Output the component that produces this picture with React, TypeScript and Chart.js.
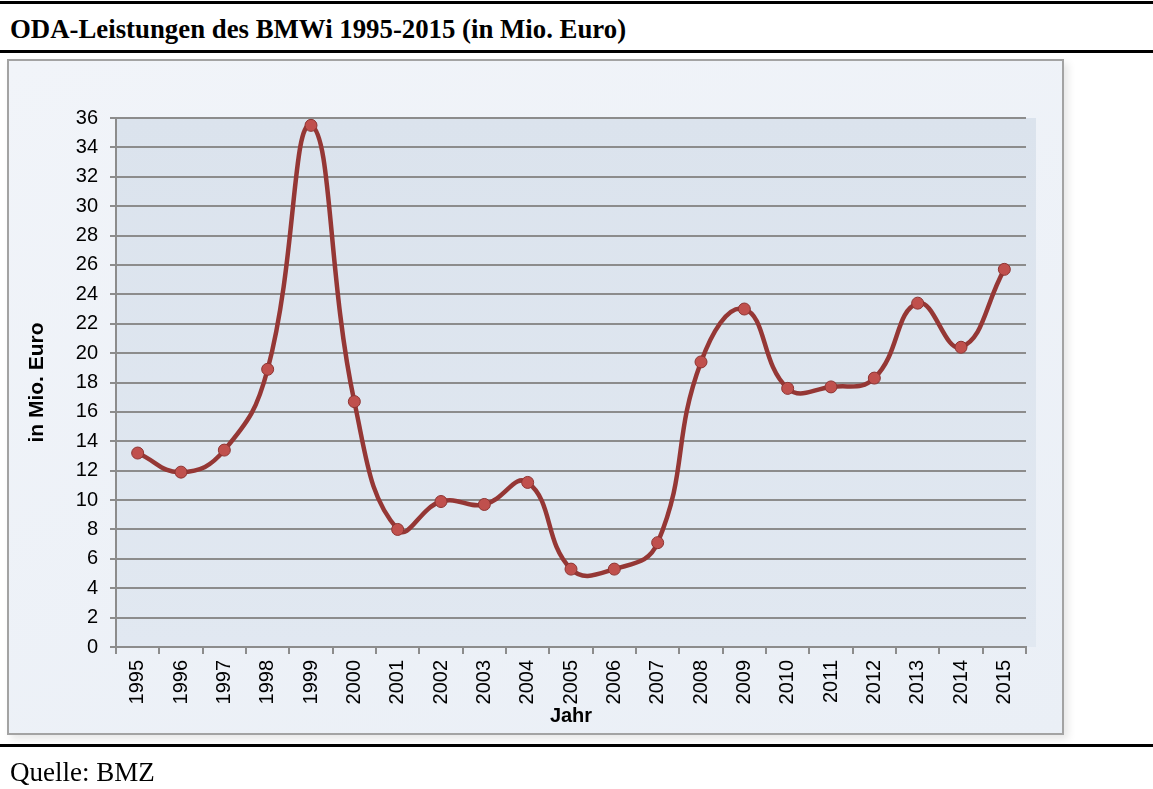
import React, { useEffect, useRef } from "react";
import { Chart, registerables } from "chart.js";

Chart.register(...registerables);

const years = [
  "1995", "1996", "1997", "1998", "1999", "2000", "2001", "2002", "2003", "2004", "2005",
  "2006", "2007", "2008", "2009", "2010", "2011", "2012", "2013", "2014", "2015",
];
const odaValues = [
  13.2, 11.9, 13.4, 18.9, 35.5, 16.7, 8.0, 9.9, 9.7, 11.2, 5.3,
  5.3, 7.1, 19.4, 23.0, 17.6, 17.7, 18.3, 23.4, 20.4, 25.7,
];
const yMin = 0;
const yMax = 36;
const yStep = 2;

const titleText = "ODA-Leistungen des BMWi 1995-2015 (in Mio. Euro)";
const yAxisTitle = "in Mio. Euro";
const xAxisTitle = "Jahr";
const sourceText = "Quelle: BMZ";

const plotBg = {
  id: "plotBg",
  beforeDraw(chart: any) {
    const { ctx, chartArea: a } = chart;
    if (!a) return;
    const g = ctx.createLinearGradient(a.left, a.top, a.left, a.bottom);
    g.addColorStop(0, "#dbe3ed");
    g.addColorStop(1, "#e1e8f1");
    ctx.save();
    ctx.fillStyle = g;
    ctx.fillRect(a.left, a.top, a.right - a.left + 10, a.bottom - a.top);
    ctx.restore();
  },
};

export default function App() {
  const ref = useRef<HTMLCanvasElement | null>(null);

  useEffect(() => {
    if (!ref.current) return;
    const chart = new Chart(ref.current, {
      type: "line",
      data: {
        labels: years,
        datasets: [
          {
            data: odaValues,
            borderColor: "#953735",
            borderWidth: 4.5,
            tension: 0.45,
            pointRadius: 6,
            pointBackgroundColor: "#c0504d",
            pointBorderColor: "#8e3432",
            pointBorderWidth: 1,
            fill: false,
          },
        ],
      },
      options: {
        animation: false,
        responsive: true,
        maintainAspectRatio: false,
        layout: { padding: { left: 22, top: 118, right: 127, bottom: 57 } },
        plugins: { legend: { display: false }, tooltip: { enabled: false } },
        scales: {
          x: {
            offset: true,
            afterFit: (s: any) => {
              s.height = 85;
            },
            grid: {
              display: true,
              drawOnChartArea: false,
              drawTicks: true,
              tickLength: 7,
              color: "#8c8c8c",
              lineWidth: 2,
              offset: true,
            },
            border: { display: true, color: "#8c8c8c", width: 2 },
            ticks: {
              maxRotation: 90,
              minRotation: 90,
              padding: 6,
              color: "#000",
              font: { family: "Liberation Sans, Arial, sans-serif", size: 20 },
            },
            title: {
              display: true,
              text: xAxisTitle,
              color: "#000",
              padding: { top: 0, bottom: 4 },
              font: { family: "Liberation Sans, Arial, sans-serif", size: 20, weight: "bold" },
            },
          },
          y: {
            min: yMin,
            max: yMax,
            afterFit: (s: any) => {
              s.width = 94;
            },
            ticks: {
              stepSize: yStep,
              padding: 12,
              color: "#000",
              font: { family: "Liberation Sans, Arial, sans-serif", size: 20 },
            },
            grid: {
              color: "#8c8c8c",
              lineWidth: 2,
              tickLength: 6,
              drawTicks: true,
            },
            border: { display: true, color: "#8c8c8c", width: 2 },
            title: {
              display: true,
              text: yAxisTitle,
              color: "#000",
              padding: { top: 3, bottom: 0 },
              font: { family: "Liberation Sans, Arial, sans-serif", size: 21, weight: "bold" },
            },
          },
        },
      },
      plugins: [plotBg],
    });
    return () => chart.destroy();
  }, []);

  return (
    <div
      style={{
        position: "absolute",
        left: 0,
        top: 0,
        width: 1153,
        height: 789,
        overflow: "hidden",
        background: "#fff",
      }}
    >
      <div style={{ position: "absolute", left: 0, top: 1, width: 1153, height: 3, background: "#000" }} />
      <div
        style={{
          position: "absolute",
          left: 10,
          top: 16,
          fontFamily: "Liberation Serif, Times New Roman, serif",
          fontWeight: "bold",
          fontSize: 26.8,
          lineHeight: "27px",
          whiteSpace: "nowrap",
          color: "#000",
        }}
      >
        {titleText}
      </div>
      <div style={{ position: "absolute", left: 0, top: 50, width: 1153, height: 3, background: "#000" }} />
      <div
        style={{
          position: "absolute",
          left: 7,
          top: 59,
          width: 1057,
          height: 676,
          boxSizing: "border-box",
          border: "2px solid #a3a3a3",
          background: "linear-gradient(160deg, #f1f4f9 0%, #eaeff6 100%)",
          boxShadow: "4px 4px 8px rgba(0,0,0,0.10)",
        }}
      />
      <div style={{ position: "absolute", left: 0, top: 0, width: 1153, height: 789 }}>
        <canvas ref={ref} />
      </div>
      <div style={{ position: "absolute", left: 0, top: 744, width: 1153, height: 3, background: "#000" }} />
      <div
        style={{
          position: "absolute",
          left: 10,
          top: 759,
          fontFamily: "Liberation Serif, Times New Roman, serif",
          fontSize: 27,
          lineHeight: "27px",
          whiteSpace: "nowrap",
          color: "#000",
        }}
      >
        {sourceText}
      </div>
    </div>
  );
}
